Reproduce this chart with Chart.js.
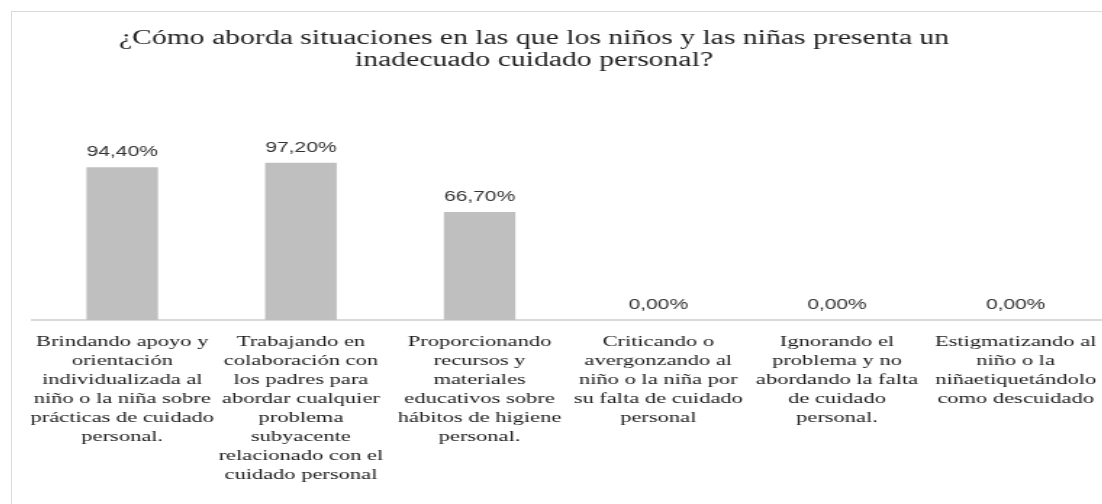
<!DOCTYPE html>
<html>
<head>
<meta charset="utf-8">
<script src="https://cdn.jsdelivr.net/npm/chart.js@4"></script>
<style>
  html, body { margin: 0; padding: 0; background: #fff; overflow: hidden; }
  #frame {
    position: absolute; left: 11px; top: 11px;
    width: 1120px; height: 520px;
    border: 1px solid #d9d9d9; overflow: hidden;
  }
  /* the original picture is stretched sideways, so is this one */
  #wrap {
    position: absolute; left: 0; top: 0;
    width: 760px; height: 520px;
    transform: scaleX(1.45); transform-origin: 0 0;
  }
</style>
</head>
<body>
<div id="frame">
  <div id="wrap"><canvas id="chart"></canvas></div>
</div>
<script>
// data
const titleLines = [
  "¿Cómo aborda situaciones en las que los niños y las niñas presenta un",
  "inadecuado cuidado personal?",
];
const categories = [
  ["Brindando apoyo y", "orientación", "individualizada al", "niño o la niña sobre", "prácticas de cuidado", "personal."],
  ["Trabajando en", "colaboración con", "los padres para", "abordar cualquier", "problema", "subyacente", "relacionado con el", "cuidado personal"],
  ["Proporcionando", "recursos y", "materiales", "educativos sobre", "hábitos de higiene", "personal."],
  ["Criticando o", "avergonzando al", "niño o la niña por", "su falta de cuidado", "personal"],
  ["Ignorando el", "problema y no", "abordando la falta", "de cuidado", "personal."],
  ["Estigmatizando al", "niño o la", "niñaetiquetándolo", "como descuidado"],
];
const percentages = [94.4, 97.2, 66.7, 0, 0, 0];

function fmtPct(v) {
  return v.toFixed(2).replace(".", ",") + "%";
}

// value labels over each bar
const barLabels = {
  id: "barLabels",
  afterDatasetsDraw(chart) {
    const ctx = chart.ctx;
    const meta = chart.getDatasetMeta(0);
    ctx.save();
    ctx.font = '14.5px "Liberation Sans"';
    ctx.fillStyle = "#333333";
    ctx.textAlign = "center";
    ctx.textBaseline = "alphabetic";
    meta.data.forEach((bar, i) => {
      ctx.fillText(fmtPct(percentages[i]), bar.x, bar.y - 11);
    });
    ctx.restore();
  },
};

// title, centred a bit left of the canvas middle like the original
const titleText = {
  id: "titleText",
  afterDraw(chart) {
    const ctx = chart.ctx;
    ctx.save();
    ctx.font = '20.5px "Liberation Serif"';
    ctx.fillStyle = "#1f1f1f";
    ctx.textAlign = "center";
    ctx.textBaseline = "alphabetic";
    ctx.fillText(titleLines[0], 360, 32);
    ctx.fillText(titleLines[1], 360, 54);
    ctx.restore();
  },
};

new Chart(document.getElementById("chart"), {
  type: "bar",
  data: {
    labels: categories,
    datasets: [{
      data: percentages,
      backgroundColor: "#bfbfbf",
      categoryPercentage: 1,
      barPercentage: 0.4,
    }],
  },
  options: {
    responsive: true,
    maintainAspectRatio: false,
    animation: false,
    layout: { padding: { top: 113.8, left: 10.3, right: 5, bottom: 0 } },
    plugins: {
      legend: { display: false },
      tooltip: { enabled: false },
    },
    scales: {
      x: {
        grid: { display: false, drawTicks: false },
        border: { display: true, color: "#d9d9d9", width: 2 },
        ticks: {
          color: "#1a1a1a",
          font: { family: "Liberation Serif", size: 15.5, lineHeight: 19 / 15.5 },
          padding: 12,
          maxRotation: 0,
          minRotation: 0,
          autoSkip: false,
        },
        afterFit: s => { s.height = 212; },
      },
      y: {
        display: false,
        min: 0,
        max: 120,
      },
    },
  },
  plugins: [barLabels, titleText],
});
</script>
</body>
</html>
